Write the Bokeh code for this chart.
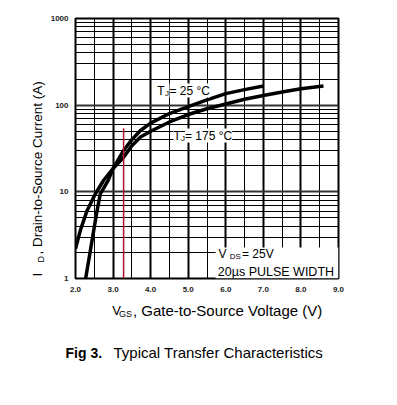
import math
from bokeh.plotting import figure
from bokeh.layouts import row, column
from bokeh.models import (Range1d, FixedTicker, Label, BoxAnnotation,
                          PrintfTickFormatter)
from bokeh.embed import file_html
from bokeh.resources import INLINE

# ---- data ----
vgs_25 = [2.27, 2.35, 2.44, 2.56, 2.66, 2.87, 3.0, 3.28, 3.5, 3.73, 4.0, 4.5,
          5.0, 5.5, 6.0, 6.5, 7.0]
id_25 = [1.0, 1.6, 2.75, 5.6, 9.5, 13.6, 18.5, 30, 40, 51, 62, 80,
         96, 115, 136, 151, 166]

vgs_175 = [2.0, 2.13, 2.31, 2.53, 2.75, 3.0, 3.28, 3.5, 3.73, 4.0, 4.5, 5.0,
           5.5, 6.0, 6.5, 7.0, 7.5, 8.0, 8.6]
id_175 = [2.2, 3.6, 6.1, 9.5, 13.6, 18.5, 25, 34, 43, 50, 64, 78,
          91, 103, 117, 129, 142, 155, 166]

marker_v = [3.28]
marker_lo = [1]
marker_hi = [54]

x_ticks = [2, 3, 4, 5, 6, 7, 8, 9]
x_minor = [2.5, 3.5, 4.5, 5.5, 6.5, 7.5, 8.5]
y_ticks = [1, 10, 100, 1000]
y_minor = [m * d for d in (1, 10, 100) for m in range(2, 10)]

FONT = "Liberation Sans"
W, H = 381, 389
LW = 46          # width of the strip carrying the y title
MH = 300         # height of the chart row
TOP, BOT = 18, 278   # frame top / bottom (page px)

# ---------------- main chart ----------------
p = figure(width=W - LW, height=MH, y_axis_type="log",
           x_range=Range1d(2, 9), y_range=Range1d(1, 1000),
           output_backend="svg", toolbar_location=None,
           min_border_left=75 - LW, min_border_right=43,
           min_border_top=TOP, min_border_bottom=MH - BOT)

p.outline_line_color = "black"
p.outline_line_width = 2

xt = FixedTicker(ticks=x_ticks, minor_ticks=x_minor)
yt = FixedTicker(ticks=y_ticks, minor_ticks=y_minor)
p.xaxis.ticker = xt
p.yaxis.ticker = yt
p.xaxis.formatter = PrintfTickFormatter(format="%.1f")
p.yaxis.formatter = PrintfTickFormatter(format="%d")
for ax in (p.xaxis, p.yaxis):
    ax.axis_line_color = None
    ax.major_tick_line_color = None
    ax.minor_tick_line_color = None
    ax.major_tick_out = 0
    ax.major_tick_in = 0
    ax.minor_tick_out = 0
    ax.minor_tick_in = 0
    ax.major_label_text_font = FONT
    ax.major_label_text_font_size = "8px"
    ax.major_label_text_font_style = "bold"
    ax.major_label_text_color = "#222222"
p.xaxis.major_label_standoff = 8
p.yaxis.major_label_standoff = 7

p.xgrid.ticker = xt
p.ygrid.ticker = yt
p.xgrid.grid_line_color = "black"
p.xgrid.grid_line_width = 2
p.xgrid.minor_grid_line_color = "black"
p.xgrid.minor_grid_line_width = 1
p.ygrid.grid_line_color = "#333333"
p.ygrid.grid_line_width = 2
p.ygrid.minor_grid_line_color = "black"
p.ygrid.minor_grid_line_width = 1

p.line(vgs_25, id_25, line_color="black", line_width=3.5)
p.line(vgs_175, id_175, line_color="black", line_width=3.5)
p.segment(x0=marker_v, y0=marker_lo, x1=marker_v, y1=marker_hi,
          line_color="#b3122b", line_width=1.5)

# white box behind the test-condition note
p.add_layout(BoxAnnotation(left=5.73, right=9, bottom=1, top=2.28,
                           fill_color="white", fill_alpha=1,
                           line_color=None))


def lab(text, dx, dy, size, style="normal", bg=None):
    """label placed in pixels from the frame's lower-left corner"""
    kw = {}
    if bg:
        kw = dict(background_fill_color=bg, background_fill_alpha=1)
    p.add_layout(Label(x=2, y=1, x_offset=dx, y_offset=dy, text=text,
                       text_font=FONT, text_font_size=f"{size}px",
                       text_font_style=style, text_align="left",
                       text_baseline="middle", text_color="black", **kw))


lab("T", 81.7, 188, 12, bg="white")
lab("J", 89.5, 185, 8, bg="white")
lab("= 25 °C", 94, 188, 12, bg="white")
lab("T", 98, 143, 12, bg="white")
lab("J", 105.5, 140, 8, bg="white")
lab("= 175 °C", 109.5, 143, 12, bg="white")

lab("V", 143, 25, 12)
lab("DS", 154.3, 22, 8)
lab("= 25V", 166.5, 25, 12)
lab("20µs PULSE WIDTH", 142.3, 6.3, 12.5)


# ---------------- text strips (page pixel coordinates) ----------------
def strip(w, h, x0, x1, y0, y1, **borders):
    f = figure(width=w, height=h, x_range=Range1d(x0, x1),
               y_range=Range1d(y1, y0), output_backend="svg",
               toolbar_location=None, x_axis_location=None,
               y_axis_location=None, **borders)
    f.outline_line_color = None
    f.grid.visible = False
    return f


def tlab(f, text, px, py, size, angle=0.0, style="normal"):
    f.add_layout(Label(x=px, y=py, text=text, text_font=FONT,
                       text_font_size=f"{size}px", text_font_style=style,
                       text_align="left", text_baseline="middle",
                       angle=angle, text_color="black"))


# y title strip: its frame spans the same rows as the chart frame
yfig = strip(LW, MH, 0, LW, TOP, BOT, min_border_left=0,
             min_border_right=0, min_border_top=TOP,
             min_border_bottom=MH - BOT)
tlab(yfig, "I", 37.2, 276, 13, angle=math.pi / 2)
tlab(yfig, "D", 40.5, 262, 9, angle=math.pi / 2)
tlab(yfig, ", Drain-to-Source Current (A)", 37.2, 254, 13.5,
     angle=math.pi / 2)

# x title + caption strip
bfig = strip(W, H - MH, 0, W, MH, H, min_border=0)
tlab(bfig, "V", 111.7, 310, 13)
tlab(bfig, "GS", 118.5, 313, 9)
tlab(bfig, ", Gate-to-Source Voltage (V)", 132.5, 310, 15)
tlab(bfig, "Fig 3.", 65, 352, 14, style="bold")
tlab(bfig, "Typical Transfer Characteristics", 113, 352, 15)

layout = column(row(yfig, p, spacing=0), bfig, spacing=0)

open("out.html", "w").write(file_html(layout, INLINE))
